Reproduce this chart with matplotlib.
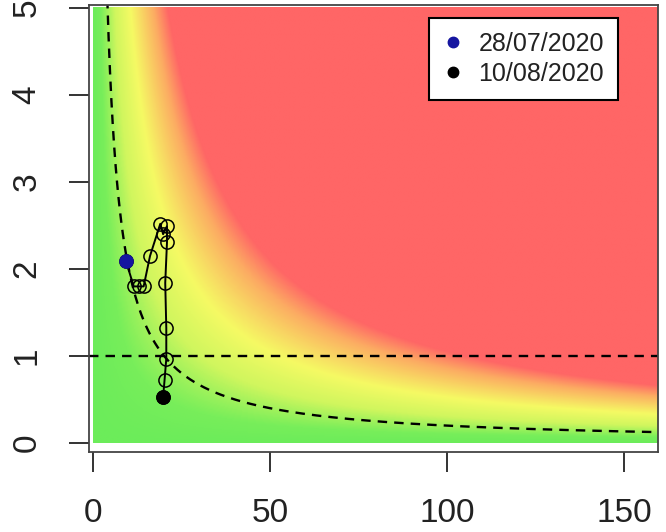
import numpy as np
import matplotlib
matplotlib.use("Agg")
import matplotlib.pyplot as plt
from matplotlib.colors import LinearSegmentedColormap
from matplotlib.lines import Line2D

# ---- data ----
incidence = [9.2, 11.4, 12.8, 14.2, 16.0, 18.9, 19.7, 20.8, 20.8, 20.3, 20.6, 20.6, 20.1, 19.7]
rho = [2.09, 1.80, 1.80, 1.80, 2.15, 2.52, 2.40, 2.49, 2.31, 1.84, 1.32, 0.97, 0.72, 0.53]
first_label = "28/07/2020"
last_label = "10/08/2020"
x_ticks = [0, 50, 100, 150]
y_ticks = [0, 1, 2, 3, 4, 5]
risk_threshold = 20

plt.rcParams['font.family'] = ['Liberation Sans', 'DejaVu Sans']

fig = plt.figure(figsize=(6.66, 5.32), dpi=100)
ax = fig.add_axes([89/666, 1-452/532, (658-89)/666, (452-5)/532])

# background gradient by product incidence*rho
xs = np.linspace(0, 162, 500)
ys = np.linspace(0, 5, 400)
X, Y = np.meshgrid(xs, ys)
P = X * Y
pmax = 140.0
nodes = [(0, (108, 236, 90)), (10, (120, 238, 90)), (30, (208, 246, 94)),
         (52, (245, 250, 100)), (85, (252, 172, 98)), (105, (255, 102, 102)),
         (pmax, (255, 102, 102))]
cmap = LinearSegmentedColormap.from_list(
    "risk", [(p / pmax, tuple(c / 255 for c in col)) for p, col in nodes])
ax.imshow(np.clip(P, 0, pmax), extent=[0, 162, 0, 5], origin='lower',
          cmap=cmap, vmin=0, vmax=pmax, aspect='auto', interpolation='bilinear', zorder=0)

# reference lines
cx = np.linspace(3.5, 162, 400)
ax.plot(cx, risk_threshold / cx, ls=(0, (4, 3)), color='black', lw=1.7, zorder=2)
ax.axhline(1, ls=(0, (4, 3)), color='black', lw=1.7, zorder=2)

# trajectory
ax.plot(incidence, rho, color='black', lw=1.4, marker='o', markersize=9.5,
        markerfacecolor='none', markeredgecolor='black', markeredgewidth=1.1, zorder=3)
ax.plot(incidence[0], rho[0], 'o', color='#1515a0', markersize=9.5, zorder=4)
ax.plot(incidence[-1], rho[-1], 'o', color='black', markersize=9.5, zorder=4)

ax.set_xlim(-1.25, 159.6)
ax.set_ylim(-0.103, 5.034)
ax.set_xticks(x_ticks)
ax.set_yticks(y_ticks)
ax.tick_params(axis='both', direction='out', length=14.5, width=1.4, color='#333333',
               labelsize=24, labelcolor='#222222')
ax.tick_params(axis='x', pad=18.5)
ax.tick_params(axis='y', pad=19)
for lab in ax.get_yticklabels():
    lab.set_rotation(90)
    lab.set_va('center')
for s in ax.spines.values():
    s.set_color('#444444')
    s.set_linewidth(1.3)

handles = [Line2D([], [], ls='none', marker='o', color='#1515a0', markersize=7.5),
           Line2D([], [], ls='none', marker='o', color='black', markersize=7.5)]
leg = ax.legend(handles, [first_label, last_label], loc='upper right',
                bbox_to_anchor=((618-89)/569, (452-18)/447), borderaxespad=0,
                fontsize=18, frameon=True, fancybox=False, framealpha=1,
                edgecolor='black', handlelength=0.8, handletextpad=0.62,
                labelspacing=0.25, borderpad=0.55)
leg.get_frame().set_linewidth(1.5)
for t in leg.get_texts():
    t.set_color('#222222')

fig.savefig("out.png", dpi=100)
